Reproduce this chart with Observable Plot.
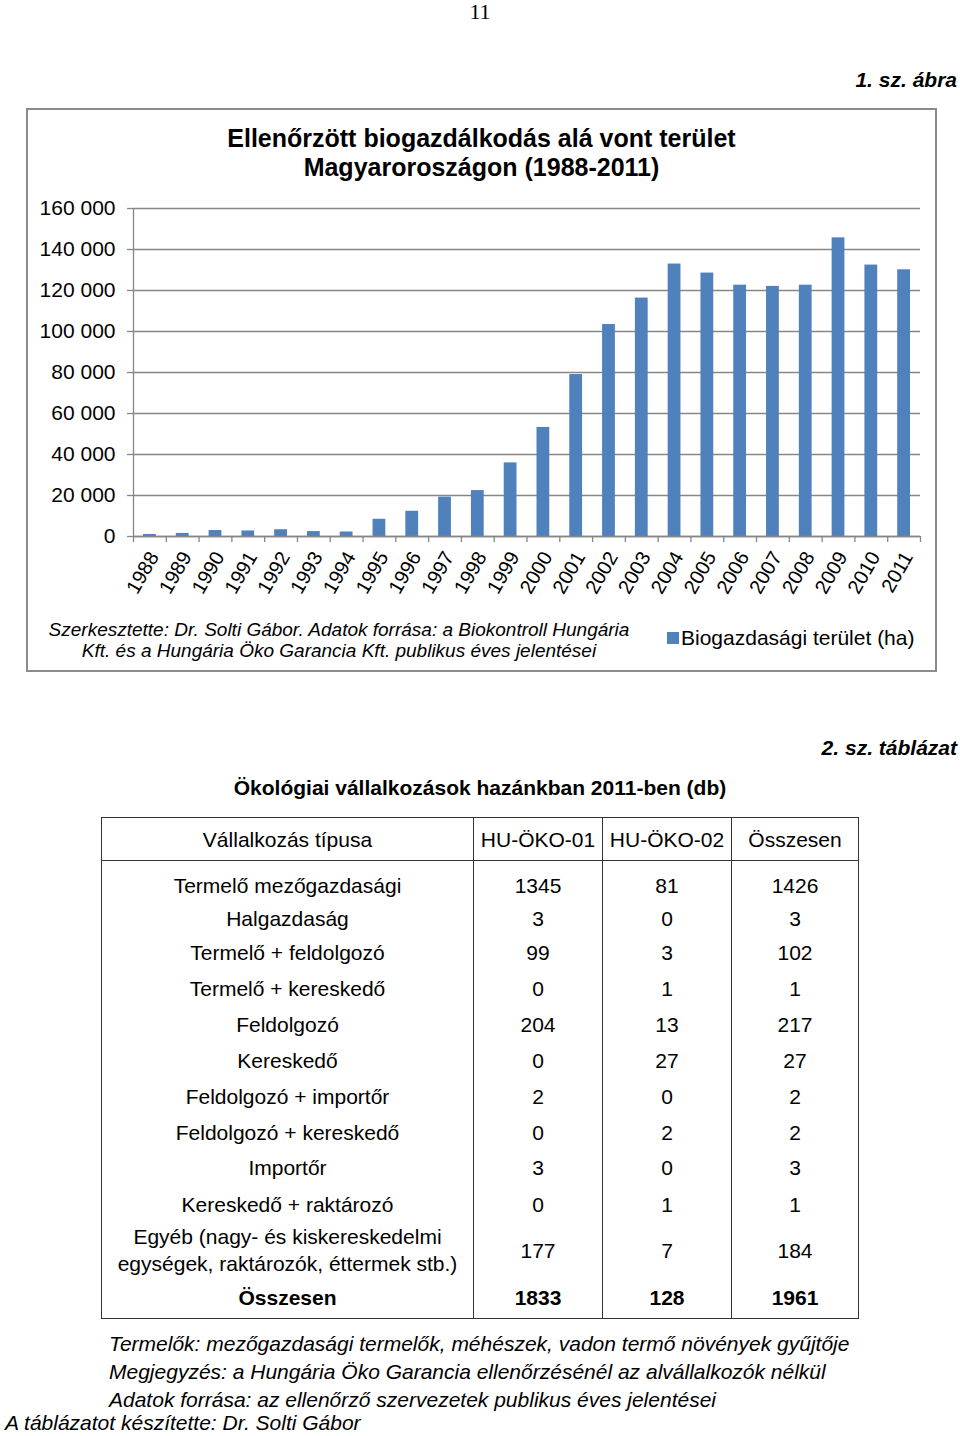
<!DOCTYPE html>
<html>
<head>
<meta charset="utf-8">
<script src="https://cdn.jsdelivr.net/npm/d3@7"></script>
<script src="https://cdn.jsdelivr.net/npm/@observablehq/plot@0.6"></script>
<style>
  html, body { margin: 0; padding: 0; background: #fff; }
  body { width: 960px; height: 1436px; position: relative; overflow: hidden;
         font-family: "Liberation Sans", Arial, Helvetica, sans-serif; color: #000; }
  .abs { position: absolute; white-space: nowrap; }
  #pagenum { left: 0; width: 960px; top: 1px; text-align: center;
             font-family: "Liberation Serif", "Times New Roman", serif; font-size: 22px; line-height: 22px; }
  .figlabel { right: 3px; font-weight: bold; font-style: italic; font-size: 21px; line-height: 24px; }
  #chartbox { left: 26px; top: 108px; width: 907px; height: 560px; border: 2px solid #8c8c8c; box-sizing: content-box; }
  #title { left: 26px; width: 911px; top: 124px; text-align: center; font-weight: bold; font-size: 25px; line-height: 29px; }
  #plot { left: 0; top: 190px; }
  #source { left: 30px; width: 618px; top: 619px; text-align: center; font-style: italic; font-size: 19px; line-height: 21px; }
  #legsw { left: 667px; top: 632px; width: 12px; height: 12px; background: #4F81BD; }
  #legtx { left: 681px; top: 626px; font-size: 21px; line-height: 24px; }
  #tbltitle { left: 0; width: 960px; top: 776px; text-align: center; font-weight: bold; font-size: 21px; line-height: 24px; }
  #tbl { left: 101px; top: 817px; border-collapse: collapse; table-layout: fixed; font-size: 21px; }
  #tbl td, #tbl th { padding: 0; text-align: center; vertical-align: middle; font-weight: normal;
                     border-left: 1.5px solid #333; border-right: 1.5px solid #333; line-height: 27px; }
  #tbl { border: 1.5px solid #333; }
  #tbl thead th { border-bottom: 1.5px solid #333; height: 42px; }
  #tbl tr.total td { font-weight: bold; }
  .foot { font-style: italic; font-size: 21px; line-height: 28px; }
</style>
</head>
<body>
<div id="pagenum" class="abs">11</div>
<div class="abs figlabel" style="top:68px">1. sz. ábra</div>
<div id="chartbox" class="abs"></div>
<div id="title" class="abs">Ellenőrzött biogazdálkodás alá vont terület<br>Magyaroroszágon (1988-2011)</div>
<div id="plot" class="abs"></div>
<div id="source" class="abs">Szerkesztette: Dr. Solti Gábor. Adatok forrása: a Biokontroll Hungária<br>Kft. és a Hungária Öko Garancia Kft. publikus éves jelentései</div>
<div id="legsw" class="abs"></div>
<div id="legtx" class="abs">Biogazdasági terület (ha)</div>

<div class="abs figlabel" style="top:736px">2. sz. táblázat</div>
<div id="tbltitle" class="abs">Ökológiai vállalkozások hazánkban 2011-ben (db)</div>
<table id="tbl" class="abs"></table>

<div class="abs foot" style="left:109px; top:1330px">Termelők: mezőgazdasági termelők, méhészek, vadon termő növények gyűjtője</div>
<div class="abs foot" style="left:109px; top:1358px">Megjegyzés: a Hungária Öko Garancia ellenőrzésénél az alvállalkozók nélkül</div>
<div class="abs foot" style="left:109px; top:1386px">Adatok forrása: az ellenőrző szervezetek publikus éves jelentései</div>
<div class="abs foot" style="left:5px; top:1411px; line-height:24px">A táblázatot készítette: Dr. Solti Gábor</div>

<script>
// ---- Chart data ----
const years = ["1988","1989","1990","1991","1992","1993","1994","1995","1996","1997","1998","1999",
               "2000","2001","2002","2003","2004","2005","2006","2007","2008","2009","2010","2011"];
const area = [1000, 1500, 2900, 2700, 3300, 2400, 2200, 8400, 12300, 19200, 22400, 35900,
              53200, 79000, 103400, 116300, 132900, 128500, 122600, 122000, 122600, 145700, 132400, 130100];
const yTicks = [0, 20000, 40000, 60000, 80000, 100000, 120000, 140000, 160000];

// ---- Table data ----
const colHeaders = ["Vállalkozás típusa", "HU-ÖKO-01", "HU-ÖKO-02", "Összesen"];
const rowLabels = ["Termelő mezőgazdasági", "Halgazdaság", "Termelő + feldolgozó", "Termelő + kereskedő",
                   "Feldolgozó", "Kereskedő", "Feldolgozó + importőr", "Feldolgozó + kereskedő",
                   "Importőr", "Kereskedő + raktározó",
                   "Egyéb (nagy- és kiskereskedelmi<br>egységek, raktározók, éttermek stb.)"];
const hu01 = [1345, 3, 99, 0, 204, 0, 2, 0, 3, 0, 177];
const hu02 = [81, 0, 3, 1, 13, 27, 0, 2, 0, 1, 7];
const totals = [1426, 3, 102, 1, 217, 27, 2, 2, 3, 1, 184];
const sumLabel = "Összesen";
const sums = [1833, 128, 1961];

// ---- Build chart ----
const W = 960, H = 420, mL = 133, mR = 40, mT = 18, mB = 74;
const step = (W - mL - mR) / years.length;
const data = years.map((y, i) => ({year: y, area: area[i]}));
const grey = "#868686";
const fmt = d => d3.format(",")(d).replace(/,/g, " ");

const chart = Plot.plot({
  width: W, height: H,
  marginLeft: mL, marginRight: mR, marginTop: mT, marginBottom: mB,
  style: {fontFamily: '"Liberation Sans", Arial, sans-serif', background: "transparent", color: "#000"},
  x: {domain: years, paddingInner: 0.61, paddingOuter: 0.305, align: 0.5, round: false},
  y: {domain: [0, 160000]},
  marks: [
    Plot.gridY(yTicks, {stroke: grey, strokeOpacity: 1, strokeWidth: 1.3}),
    Plot.axisY(yTicks, {tickFormat: fmt, tickSize: 6, tickPadding: 12, fontSize: 21, stroke: grey, strokeOpacity: 1, strokeWidth: 1.3, label: null}),
    Plot.barY(data, {x: "year", y: "area", fill: "#4F81BD"}),
    Plot.ruleY([0], {stroke: grey, strokeWidth: 1.3}),
    Plot.ruleX([years[0]], {x: d => d, y1: 0, y2: 160000, dx: -step / 2, stroke: grey, strokeWidth: 1.3}),
    Plot.ruleX(years, {x: d => d, y1: 0, y2: 0, insetBottom: -6, dx: -step / 2, stroke: grey, strokeWidth: 1.3}),
    Plot.ruleX([years[years.length - 1]], {x: d => d, y1: 0, y2: 0, insetBottom: -6, dx: step / 2, stroke: grey, strokeWidth: 1.3}),
    Plot.axisX({tickSize: 0, tickPadding: 17, tickRotate: -60, fontSize: 20, dx: 4, label: null})
  ]
});
document.getElementById("plot").appendChild(chart);

// ---- Build table ----
const colW = [372, 129, 129, 127];
const rowH = [42, 32, 36, 36, 36, 36, 36, 35, 36, 37, 55];
const sumH = 41;
let html = "<colgroup>" + colW.map(w => `<col style="width:${w}px">`).join("") + "</colgroup>";
html += "<thead><tr>" + colHeaders.map(h => `<th>${h}</th>`).join("") + "</tr></thead><tbody>";
rowLabels.forEach((lab, i) => {
  const pad = i === 0 ? "padding-top:8px;" : "";
  html += `<tr style="height:${rowH[i]}px">` +
    [lab, hu01[i], hu02[i], totals[i]].map(v => `<td style="${pad}">${v}</td>`).join("") + "</tr>";
});
html += `<tr class="total" style="height:${sumH}px">` + [sumLabel, ...sums].map(v => `<td>${v}</td>`).join("") + "</tr>";
html += "</tbody>";
document.getElementById("tbl").innerHTML = html;
</script>
</body>
</html>
